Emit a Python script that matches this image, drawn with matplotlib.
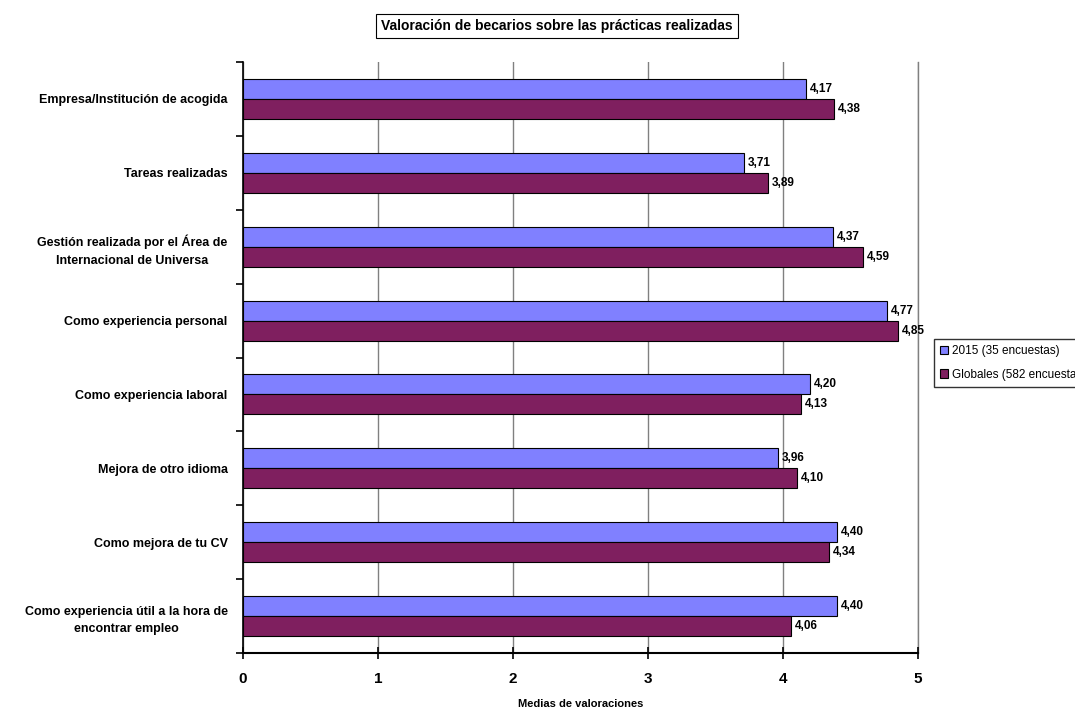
import numpy as np
import matplotlib
matplotlib.use('Agg')
import matplotlib.pyplot as plt
from matplotlib.patches import Patch

categorias = ['Empresa/Institución de acogida', 'Tareas realizadas',
              'Gestión realizada por el Área de\nInternacional de Universa',
              'Como experiencia personal', 'Como experiencia laboral',
              'Mejora de otro idioma', 'Como mejora de tu CV',
              'Como experiencia útil a la hora de\nencontrar empleo']
v2015 = [4.17, 3.71, 4.37, 4.77, 4.20, 3.96, 4.40, 4.40]
vglobal = [4.38, 3.89, 4.59, 4.85, 4.13, 4.10, 4.34, 4.06]
series = ['2015 (35 encuestas)', 'Globales (582 encuestas)']
colores = ['#8080FF', '#7F1F5F']

plt.rcParams['font.family'] = ['Liberation Sans', 'DejaVu Sans']

fig = plt.figure(figsize=(10.75, 7.07), dpi=100)
ax = fig.add_axes([243/1075, 1-653/707, 675/1075, 591/707])

y = np.arange(len(categorias))
h = 0.27
ax.barh(y-h/2, v2015, height=h, color=colores[0], edgecolor='black', lw=0.8, zorder=3)
ax.barh(y+h/2, vglobal, height=h, color=colores[1], edgecolor='black', lw=0.8, zorder=3)
for yi, a, b in zip(y, v2015, vglobal):
    ax.text(a+0.03, yi-h/2, f'{a:.2f}'.replace('.', ','), va='center', ha='left', fontsize=8.5, fontweight='bold', zorder=4)
    ax.text(b+0.03, yi+h/2, f'{b:.2f}'.replace('.', ','), va='center', ha='left', fontsize=8.5, fontweight='bold', zorder=4)

ax.set_xlim(0, 5)
ax.set_ylim(len(categorias)-0.5, -0.5)
ax.set_xticks(range(6))
ax.set_xticklabels([str(i) for i in range(6)], fontsize=11, fontweight='bold')
ax.set_yticks(y)
ax.set_yticklabels(categorias, fontsize=9, fontweight='bold', ha='right', multialignment='center', linespacing=1.6)
ax.tick_params(axis='y', length=0, pad=11)
ax.set_yticks(np.arange(len(categorias)+1)-0.5, minor=True)
ax.tick_params(axis='y', which='minor', length=5, width=1.2, direction='out')
ax.tick_params(axis='x', length=8, width=1.2, direction='inout', pad=10)
for s in ['top', 'right']:
    ax.spines[s].set_visible(False)
ax.spines['left'].set_linewidth(1.2)
ax.spines['bottom'].set_linewidth(1.5)
ax.grid(axis='x', color='#808080', lw=1, zorder=0)
ax.axvline(5, color='#808080', lw=1, zorder=0, clip_on=False)
ax.set_xlabel('Medias de valoraciones', fontsize=8, fontweight='bold', labelpad=9)

fig.text(557/1075, 1-26/707, 'Valoración de becarios sobre las prácticas realizadas', ha='center', va='center',
         fontsize=10, fontweight='bold', bbox=dict(boxstyle='square,pad=0.35', fc='white', ec='black', lw=0.8))

handles = [Patch(facecolor=c, edgecolor='black', lw=0.8) for c in colores]
fig.legend(handles, series, loc='upper left', bbox_to_anchor=(934/1075, 1-339/707), fontsize=8.5,
           frameon=True, fancybox=False, edgecolor='black', handlelength=0.7, handleheight=0.7,
           handletextpad=0.3, labelspacing=1.0, borderpad=0.5, borderaxespad=0)

fig.savefig('out.png', dpi=100, facecolor='white')
